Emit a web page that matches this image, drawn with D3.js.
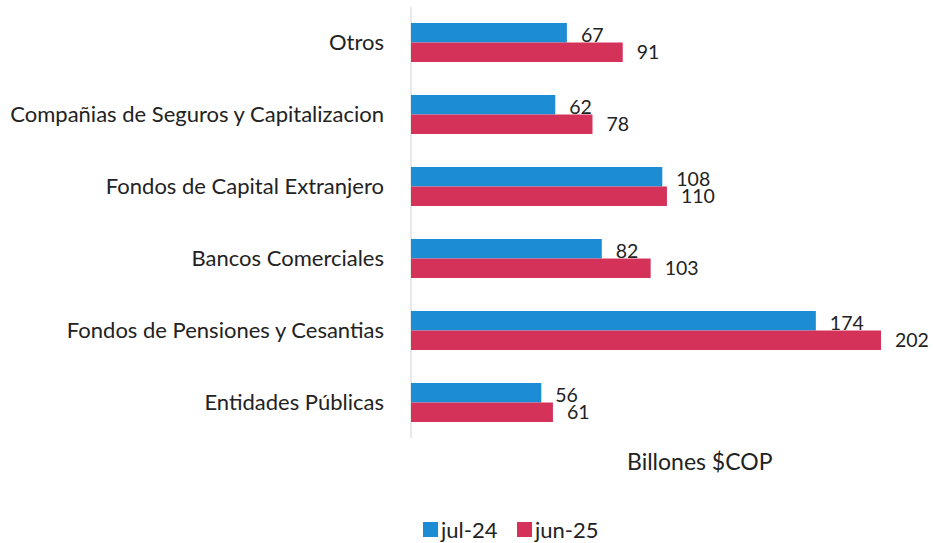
<!DOCTYPE html>
<html>
<head>
<meta charset="utf-8">
<script src="https://cdn.jsdelivr.net/npm/d3@7"></script>
<style>
  body { margin: 0; background: #fff; }
  text { font-family: Lato, "Open Sans", sans-serif; fill: #222; }
</style>
</head>
<body>
<div id="viz"></div>
<script>
// datos (billones COP)
var categorias = ["Otros", "Compañias de Seguros y Capitalizacion", "Fondos de Capital Extranjero",
                  "Bancos Comerciales", "Fondos de Pensiones y Cesantias", "Entidades Públicas"];
var series = ["jul-24", "jun-25"];
var jul24 = [67, 62, 108, 82, 174, 56];
var jun25 = [91, 78, 110, 103, 202, 61];
var colores = ["#1c8dd5", "#d5325a"];

var width = 933, height = 543;
var x0 = 411;

var svg = d3.select("#viz").append("svg")
  .attr("width", width)
  .attr("height", height);

var x = d3.scaleLinear().domain([0, 202]).range([x0, 881]);
var y = d3.scaleBand().domain(categorias).range([6.5, 438.5])
  .paddingInner(0.458).paddingOuter(0.229);
var ySub = d3.scaleBand().domain(series).range([0, y.bandwidth()]);

// eje vertical
svg.append("line")
  .attr("x1", x0).attr("x2", x0)
  .attr("y1", 7).attr("y2", 438)
  .attr("stroke", "#e2e2e2").attr("stroke-width", 1.5);

var yAxis = svg.append("g")
  .attr("transform", "translate(" + (x0 - 24) + ",0)")
  .call(d3.axisLeft(y).tickSize(0));
yAxis.select(".domain").remove();
yAxis.selectAll("text")
  .attr("dy", "0.35em")
  .style("font-size", "22px")
  .style("font-family", "Lato, 'Open Sans', sans-serif")
  .attr("fill", "#222");

var valores = [jul24, jun25];
var filas = [];
categorias.forEach(function(c, i){
  series.forEach(function(s, j){
    filas.push({cat: c, serie: s, v: valores[j][i], j: j});
  });
});

var g = svg.append("g");
g.selectAll("rect").data(filas).enter().append("rect")
  .attr("x", x(0))
  .attr("y", function(d){ return y(d.cat) + ySub(d.serie); })
  .attr("width", function(d){ return x(d.v) - x(0); })
  .attr("height", ySub.bandwidth())
  .attr("fill", function(d){ return colores[d.j]; });

g.selectAll("text").data(filas).enter().append("text")
  .attr("x", function(d){ return x(d.v) + 14; })
  .attr("y", function(d){ return y(d.cat) + ySub(d.serie) + ySub.bandwidth()/2 + (d.j == 0 ? 2 : 0); })
  .attr("dy", "0.35em")
  .style("font-size", "19.5px")
  .text(function(d){ return d.v; });

svg.append("text")
  .attr("x", 627).attr("y", 462)
  .attr("dy", "0.35em")
  .style("font-size", "23px")
  .text("Billones $COP");

// leyenda
var leg = svg.append("g").attr("transform", "translate(423,530)");
series.forEach(function(s, j){
  var lx = j * 94;
  leg.append("rect")
    .attr("x", lx).attr("y", -8)
    .attr("width", 15).attr("height", 15)
    .attr("fill", colores[j]);
  leg.append("text")
    .attr("x", lx + 18).attr("y", 0)
    .attr("dy", "0.35em")
    .style("font-size", "22px")
    .text(s);
});
</script>
</body>
</html>
